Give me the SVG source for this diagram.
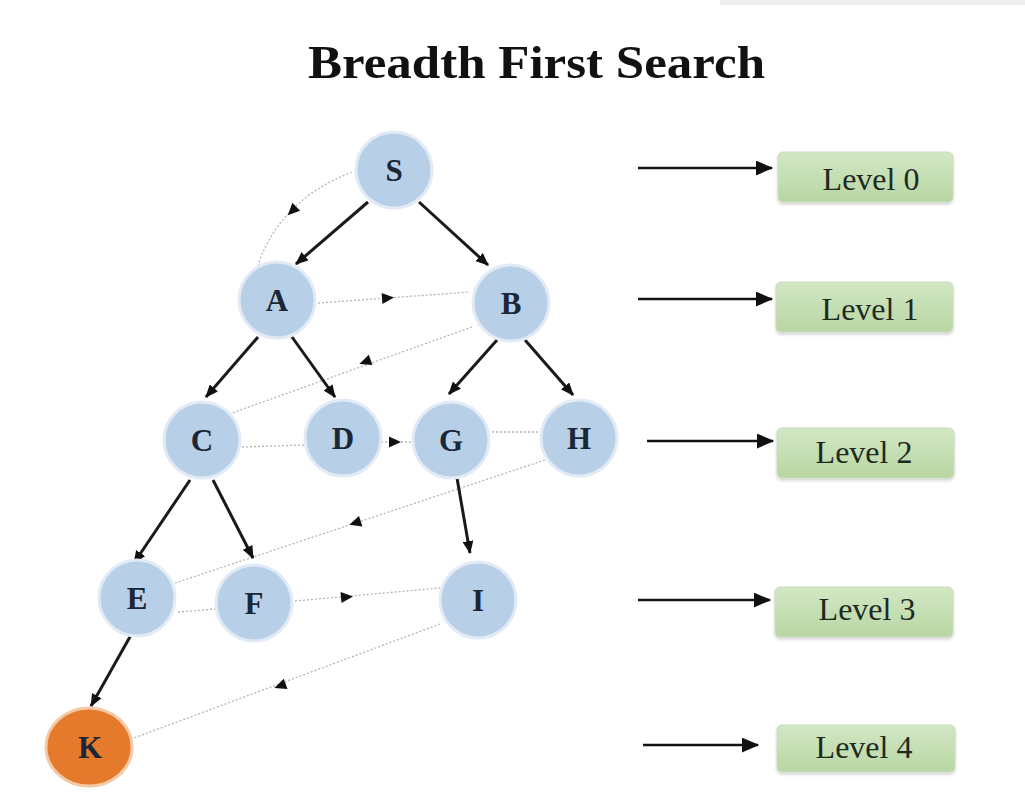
<svg xmlns="http://www.w3.org/2000/svg" xmlns:xlink="http://www.w3.org/1999/xlink" width="1025" height="798" viewBox="0 0 1025 798">
  <style>
    .node { fill: #b8cfe8; stroke: #e2ebf5; stroke-width: 3; }
    .goal { fill: #e57a2c; stroke: #f3c9a6; stroke-width: 3; }
    .lbl { font-family: "Liberation Serif", "DejaVu Serif", serif; font-weight: bold; font-size: 31px; fill: #1b2636; text-anchor: middle; }
    .edge { stroke: #1a1a1a; stroke-width: 3; fill: none; marker-end: url(#ah); }
    .trace { stroke: #b5b5b5; stroke-width: 1.3; stroke-dasharray: 2 2; fill: none; }
    .lvlbox { fill: url(#lvlgrad); stroke: #c9dcbc; stroke-width: 1; }
    .lvltxt { font-family: "Liberation Serif", "DejaVu Serif", serif; font-size: 32px; fill: #1f2a1f; text-anchor: middle; }
    .ptr { stroke: #111; stroke-width: 2.5; fill: none; marker-end: url(#ah2); }
  </style>
  <defs>
    <marker id="ah" viewBox="0 0 12 10" refX="11" refY="5" markerWidth="13" markerHeight="11" markerUnits="userSpaceOnUse" orient="auto">
      <path d="M0,0 L12,5 L0,10 Z" fill="#111"/>
    </marker>
    <marker id="ah2" viewBox="0 0 14 12" refX="13" refY="6" markerWidth="18" markerHeight="15" markerUnits="userSpaceOnUse" orient="auto">
      <path d="M0,0 L14,6 L0,12 Z" fill="#111"/>
    </marker>
    <path id="tri" d="M6,0 L-6,-5.5 L-6,5.5 Z" fill="#111"/>
    <linearGradient id="lvlgrad" x1="0" y1="0" x2="0" y2="1">
      <stop offset="0" stop-color="#d2e7c4"/>
      <stop offset="1" stop-color="#b8d6a3"/>
    </linearGradient>
    <filter id="soft" x="-10%" y="-10%" width="120%" height="130%">
      <feDropShadow dx="0" dy="2" stdDeviation="1.5" flood-color="#000" flood-opacity="0.18"/>
    </filter>
  </defs>

  <rect width="1025" height="798" fill="#ffffff"/>
  <rect x="720" y="0" width="305" height="5" fill="#efefef"/>

  <text x="308" y="78" font-family="Liberation Serif, DejaVu Serif, serif" font-weight="bold" font-size="46" fill="#111" textLength="457" lengthAdjust="spacingAndGlyphs">Breadth First Search</text>

  <!-- traversal order (dotted) and tree edges (solid) -->
  <g id="connectors">
    <path class="trace" d="M352,172 Q280,200 258,265"/>
    <use xlink:href="#tri" transform="translate(292,211) rotate(135)"/>
    <path class="trace" d="M318,303 L470,292"/>
    <use xlink:href="#tri" transform="translate(388,298) rotate(-4)"/>
    <path class="trace" d="M472,327 L232,413"/>
    <use xlink:href="#tri" transform="translate(365,362) rotate(160)"/>
    <path class="trace" d="M242,447 L304,445"/>
    <path class="trace" d="M381,442 L412,442"/>
    <use xlink:href="#tri" transform="translate(395,442)"/>
    <path class="trace" d="M492,432 L541,432"/>
    <path class="trace" d="M545,460 L175,583"/>
    <use xlink:href="#tri" transform="translate(355,523) rotate(162)"/>
    <path class="trace" d="M178,612 L215,609"/>
    <path class="trace" d="M295,601 L440,588"/>
    <use xlink:href="#tri" transform="translate(347,597) rotate(-5)"/>
    <path class="trace" d="M440,624 L134,738"/>
    <use xlink:href="#tri" transform="translate(280,686) rotate(160)"/>

    <line class="edge" x1="368" y1="202" x2="296" y2="264"/>
    <line class="edge" x1="419" y1="202" x2="488" y2="265"/>
    <line class="edge" x1="258" y1="337" x2="206" y2="397"/>
    <line class="edge" x1="292" y1="337" x2="335" y2="397"/>
    <line class="edge" x1="497" y1="340" x2="449" y2="394"/>
    <line class="edge" x1="525" y1="340" x2="573" y2="395"/>
    <line class="edge" x1="190" y1="480" x2="134" y2="563"/>
    <line class="edge" x1="213" y1="480" x2="253" y2="558"/>
    <line class="edge" x1="457" y1="478" x2="470" y2="553"/>
    <line class="edge" x1="131" y1="635" x2="91" y2="706"/>

    <line class="ptr" x1="638" y1="168" x2="772" y2="168"/>
    <line class="ptr" x1="638" y1="299" x2="772" y2="299"/>
    <line class="ptr" x1="647" y1="441" x2="773" y2="441"/>
    <line class="ptr" x1="638" y1="600" x2="770" y2="600"/>
    <line class="ptr" x1="643" y1="745" x2="758" y2="745"/>
  </g>

  <g id="node-S"><circle class="node" cx="394" cy="170" r="38"/><text class="lbl" x="394" y="181">S</text></g>
  <g id="node-A"><circle class="node" cx="277" cy="300" r="38"/><text class="lbl" x="277" y="311">A</text></g>
  <g id="node-B"><circle class="node" cx="511" cy="303" r="38"/><text class="lbl" x="511" y="314">B</text></g>
  <g id="node-C"><circle class="node" cx="202" cy="440" r="38"/><text class="lbl" x="202" y="451">C</text></g>
  <g id="node-D"><circle class="node" cx="343" cy="438" r="38"/><text class="lbl" x="343" y="449">D</text></g>
  <g id="node-G"><circle class="node" cx="451" cy="440" r="38"/><text class="lbl" x="451" y="451">G</text></g>
  <g id="node-H"><circle class="node" cx="579" cy="438" r="38"/><text class="lbl" x="579" y="449">H</text></g>
  <g id="node-E"><circle class="node" cx="137" cy="598" r="38"/><text class="lbl" x="137" y="609">E</text></g>
  <g id="node-F"><circle class="node" cx="254" cy="603" r="38"/><text class="lbl" x="254" y="614">F</text></g>
  <g id="node-I"><circle class="node" cx="478" cy="600" r="38"/><text class="lbl" x="478" y="611">I</text></g>
  <g id="node-K"><ellipse class="goal" cx="89" cy="747" rx="43" ry="39"/><text class="lbl" x="90" y="758">K</text></g>

  <g id="level-0"><rect class="lvlbox" x="778" y="152" width="175" height="50" rx="5" filter="url(#soft)"/><text class="lvltxt" x="871" y="190">Level 0</text></g>
  <g id="level-1"><rect class="lvlbox" x="776" y="282" width="177" height="50" rx="5" filter="url(#soft)"/><text class="lvltxt" x="870" y="320">Level 1</text></g>
  <g id="level-2"><rect class="lvlbox" x="777" y="428" width="177" height="50" rx="5" filter="url(#soft)"/><text class="lvltxt" x="864" y="463">Level 2</text></g>
  <g id="level-3"><rect class="lvlbox" x="775" y="587" width="178" height="50" rx="5" filter="url(#soft)"/><text class="lvltxt" x="867" y="620">Level 3</text></g>
  <g id="level-4"><rect class="lvlbox" x="777" y="725" width="178" height="47" rx="5" filter="url(#soft)"/><text class="lvltxt" x="864" y="758">Level 4</text></g>
</svg>
